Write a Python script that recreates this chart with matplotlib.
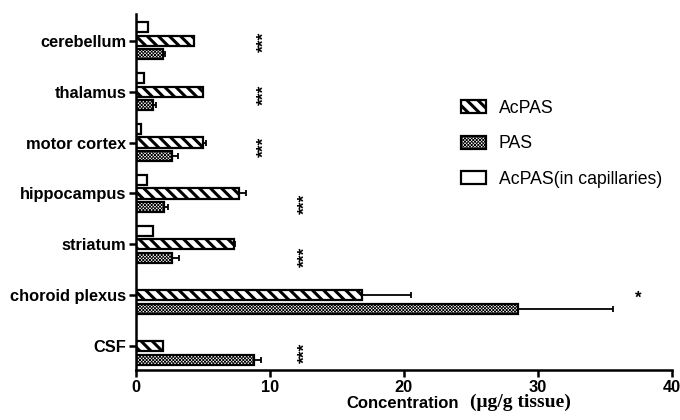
import matplotlib
matplotlib.use("Agg")
import matplotlib.pyplot as plt
from matplotlib.patches import Patch
import numpy as np

plt.rcParams['font.family'] = ['Liberation Sans', 'DejaVu Sans']
plt.rcParams['hatch.linewidth'] = 2.2

categories = ["cerebellum", "thalamus", "motor cortex", "hippocampus",
              "striatum", "choroid plexus", "CSF"]
acpas = [4.3, 5.0, 5.0, 7.7, 7.3, 16.9, 2.0]
acpas_err = [0.0, 0.0, 0.2, 0.5, 0.1, 3.6, 0.0]
pas = [2.0, 1.25, 2.7, 2.1, 2.7, 28.5, 8.8]
pas_err = [0.2, 0.25, 0.4, 0.3, 0.5, 7.1, 0.5]
capil = [0.9, 0.6, 0.4, 0.8, 1.25, np.nan, np.nan]
stars = ["***", "***", "***", "***", "***", "*", "***"]
star_x = [9.55, 9.55, 9.55, 12.65, 12.65, 37.5, 12.65]
star_dy = [-0.02, -0.06, -0.08, -0.2, -0.24, -0.06, -0.14]

xticks = [0, 10, 20, 30, 40]

fig = plt.figure(figsize=(6.8, 4.2), dpi=100)
ax = fig.add_axes([0.2, 0.119, 0.788, 0.848])

n = len(categories)
ypos = np.arange(n)[::-1].astype(float)
off = 0.265
h = 0.2
lw = 1.6
hatch_a = '\\\\\\'
hatch_p = 'x' * 10
hlw_a = 2.2
hlw_p = 0.6


def set_hlw(artists, w):
    for a in artists:
        if hasattr(a, 'set_hatch_linewidth'):
            a.set_hatch_linewidth(w)


ax.barh(ypos + off, capil, height=h, color='white', edgecolor='black', linewidth=lw)
ba = ax.barh(ypos, acpas, height=h, color='white', edgecolor='black', linewidth=lw,
             hatch=hatch_a)
set_hlw(ba, hlw_a)
bp = ax.barh(ypos - off, pas, height=h, color='white', edgecolor='black', linewidth=lw,
             hatch=hatch_p)
set_hlw(bp, hlw_p)

err_kw = dict(fmt='none', ecolor='black', elinewidth=1.3, capsize=2.5, capthick=1.3)
ax.errorbar(acpas, ypos, xerr=[np.zeros(n), acpas_err], **err_kw)
ax.errorbar(pas, ypos - off, xerr=[np.zeros(n), pas_err], **err_kw)

for s, sx, sy, y in zip(stars, star_x, star_dy, ypos):
    if len(s) > 1:
        ax.text(sx, y + sy, s, rotation=90, ha='center', va='center', fontsize=12.5,
                fontweight='bold')
    else:
        ax.text(sx, y + sy, s, ha='center', va='center', fontsize=12, fontweight='bold')

ax.set_xlim(0, 40)
ax.set_ylim(-0.47, 6.53)
ax.set_xticks(xticks)
ax.set_xticklabels([str(t) for t in xticks], fontweight='bold', fontsize=11.8)
ax.set_yticks(ypos)
ax.set_yticklabels(categories, fontweight='bold', fontsize=11.8)
for s in ['top', 'right']:
    ax.spines[s].set_visible(False)
for s in ['left', 'bottom']:
    ax.spines[s].set_linewidth(1.8)
ax.tick_params(axis='both', direction='out', length=5, width=1.8, pad=2)

fig.text(0.51, 0.022, "Concentration", fontweight='bold', fontsize=12, ha='left', va='bottom')
fig.text(0.691, 0.022, "(\u03bcg/g tissue)", fontweight='bold', fontsize=14,
         family=['Liberation Serif', 'DejaVu Serif'], ha='left', va='bottom')

h1 = Patch(facecolor='white', edgecolor='black', linewidth=lw, hatch=hatch_a)
h2 = Patch(facecolor='white', edgecolor='black', linewidth=lw, hatch=hatch_p)
h3 = Patch(facecolor='white', edgecolor='black', linewidth=lw)
labels = ["AcPAS", "PAS", "AcPAS(in capillaries)"]
leg = ax.legend([h1, h2, h3], labels, loc='upper left', bbox_to_anchor=(0.678, 0.762),
                bbox_transform=fig.transFigure, frameon=False, fontsize=12.7,
                handlelength=1.4, handleheight=0.75, handletextpad=0.75,
                labelspacing=1.05, borderpad=0, borderaxespad=0)
for p, w in zip(leg.get_patches(), [hlw_a, hlw_p, 1.0]):
    set_hlw([p], w)

fig.savefig("out.png", dpi=100)
